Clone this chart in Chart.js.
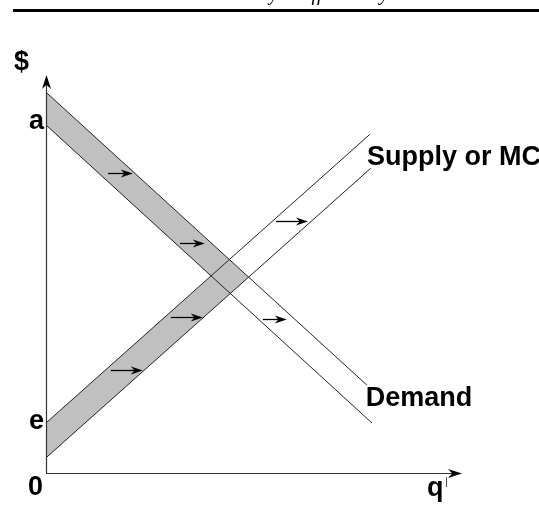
<!DOCTYPE html>
<html>
<head>
<meta charset="utf-8">
<script src="https://cdn.jsdelivr.net/npm/chart.js@4"></script>
<style>
  body { margin: 0; background: #fff; }
</style>
</head>
<body>
<canvas id="market" width="539" height="530"></canvas>
<script>
// end points of each curve, [quantity, price]
var demandOld = [[0, 8.7], [8.15, 1.25]];
var demandNew = [[0, 9.52], [8.02, 2.2]];
var supplyOld = [[0, 1.25], [8.1, 8.47]];
var supplyNew = [[0, 0.38], [8.12, 7.62]];

// small shift arrows: [from q, to q, price]
var shiftArrows = [
  [1.55, 2.17, 7.5],
  [3.35, 3.97, 5.75],
  [1.62, 2.42, 2.57],
  [3.12, 3.92, 3.9],
  [5.75, 6.55, 6.3],
  [5.42, 6.02, 3.85]
];

var priceTicks = [["a", 8.7], ["e", 1.25]];
var curveNames = ["Supply or MC", "Demand"];

function toPts(arr) {
  return arr.map(function (p) { return { x: p[0], y: p[1] }; });
}

function lineEq(l) {
  var m = (l[1][1] - l[0][1]) / (l[1][0] - l[0][0]);
  return { m: m, b: l[0][1] - m * l[0][0] };
}

function cross(l1, l2) {
  var a = lineEq(l1), c = lineEq(l2);
  var x = (c.b - a.b) / (a.m - c.m);
  return [x, a.m * x + a.b];
}

// shaded area: both bands, up to the far side of the crossing
var shaded = [
  demandNew[0],
  cross(demandNew, supplyNew),
  supplyNew[0],
  supplyOld[0],
  cross(supplyOld, demandOld),
  demandOld[0]
];

function arrowHead(ctx, x, y, dir, len, half) {
  // dir: 'right' or 'up'
  ctx.beginPath();
  if (dir == "right") {
    ctx.moveTo(x, y);
    ctx.lineTo(x - len, y - half);
    ctx.lineTo(x - len * 0.7, y);
    ctx.lineTo(x - len, y + half);
  } else {
    ctx.moveTo(x, y);
    ctx.lineTo(x - half, y + len);
    ctx.lineTo(x, y + len * 0.7);
    ctx.lineTo(x + half, y + len);
  }
  ctx.closePath();
  ctx.fill();
}

var diagram = {
  id: "diagram",
  beforeDraw: function (chart) {
    var ctx = chart.ctx;
    ctx.save();
    ctx.fillStyle = "#fff";
    ctx.fillRect(0, 0, chart.width, chart.height);
    // page header, mostly cut off
    ctx.fillStyle = "#000";
    ctx.font = "italic 20px 'Liberation Serif'";
    ctx.textAlign = "center";
    ctx.textBaseline = "alphabetic";
    ctx.fillText("Industry is affected by", 300, 0);
    ctx.fillRect(13, 9, 526, 3);
    ctx.restore();
  },
  beforeDatasetsDraw: function (chart) {
    var ctx = chart.ctx, xs = chart.scales.x, ys = chart.scales.y;
    ctx.save();
    ctx.fillStyle = "#c0c0c0";
    ctx.beginPath();
    shaded.forEach(function (p, i) {
      var px = xs.getPixelForValue(p[0]), py = ys.getPixelForValue(p[1]);
      if (i == 0) ctx.moveTo(px, py); else ctx.lineTo(px, py);
    });
    ctx.closePath();
    ctx.fill();
    ctx.restore();
  },
  afterDatasetsDraw: function (chart) {
    var ctx = chart.ctx, xs = chart.scales.x, ys = chart.scales.y;
    var area = chart.chartArea;
    var x0 = xs.getPixelForValue(0), y0 = ys.getPixelForValue(0);
    ctx.save();

    // axes
    ctx.strokeStyle = "#333";
    ctx.fillStyle = "#000";
    ctx.lineWidth = 1.2;
    ctx.beginPath();
    ctx.moveTo(x0 + 0.5, y0);
    ctx.lineTo(x0 + 0.5, area.top + 6);
    ctx.moveTo(x0, y0 + 0.5);
    ctx.lineTo(area.right - 6, y0 + 0.5);
    ctx.stroke();
    arrowHead(ctx, x0 + 0.5, area.top, "up", 14, 4.5);
    arrowHead(ctx, area.right, y0 + 0.5, "right", 14, 4.5);

    // shift arrows
    ctx.strokeStyle = "#000";
    ctx.lineWidth = 1.3;
    shiftArrows.forEach(function (a) {
      var xa = xs.getPixelForValue(a[0]), xb = xs.getPixelForValue(a[1]);
      var py = Math.round(ys.getPixelForValue(a[2])) + 0.5;
      ctx.beginPath();
      ctx.moveTo(xa, py);
      ctx.lineTo(xb - 6, py);
      ctx.stroke();
      arrowHead(ctx, xb, py, "right", 12, 4);
    });

    // labels
    ctx.fillStyle = "#000";
    ctx.lineWidth = 1;
    ctx.font = "bold 27px 'Liberation Sans', Arial, sans-serif";
    ctx.textBaseline = "alphabetic";
    ctx.textAlign = "left";
    ctx.fillText("$", 14, 70);
    ctx.textAlign = "right";
    priceTicks.forEach(function (t, i) {
      var py = ys.getPixelForValue(t[1]);
      ctx.fillText(t[0], x0 - 2, py + (i == 0 ? 4 : 6));
    });
    ctx.fillText("0", x0 - 3, y0 + 22);
    ctx.textAlign = "left";
    ctx.fillText("q", area.right - 35, y0 + 23);
    ctx.strokeStyle = "#555";
    ctx.beginPath();
    ctx.moveTo(area.right - 15.5, y0 + 4);
    ctx.lineTo(area.right - 15.5, y0 + 14);
    ctx.stroke();

    var sEnd = supplyOld[1], dEnd = demandNew[1];
    ctx.fillText(curveNames[0], xs.getPixelForValue(sEnd[0]) - 3, ys.getPixelForValue(sEnd[1]) + 31);
    ctx.fillText(curveNames[1], xs.getPixelForValue(dEnd[0]) - 1, ys.getPixelForValue(dEnd[1]) + 21);
    ctx.restore();
  }
};

function curve(pts) {
  return {
    data: toPts(pts),
    showLine: true,
    borderColor: "#222",
    borderWidth: 1,
    pointRadius: 0,
    fill: false,
    clip: false
  };
}

new Chart(document.getElementById("market").getContext("2d"), {
  type: "scatter",
  data: {
    datasets: [curve(demandOld), curve(demandNew), curve(supplyOld), curve(supplyNew)]
  },
  options: {
    responsive: false,
    animation: false,
    layout: { padding: { left: 46, right: 77, top: 75, bottom: 57 } },
    plugins: { legend: { display: false }, tooltip: { enabled: false } },
    scales: {
      x: { type: "linear", min: 0, max: 10.4, display: false },
      y: { type: "linear", min: 0, max: 9.95, display: false }
    }
  },
  plugins: [diagram]
});
</script>
</body>
</html>
